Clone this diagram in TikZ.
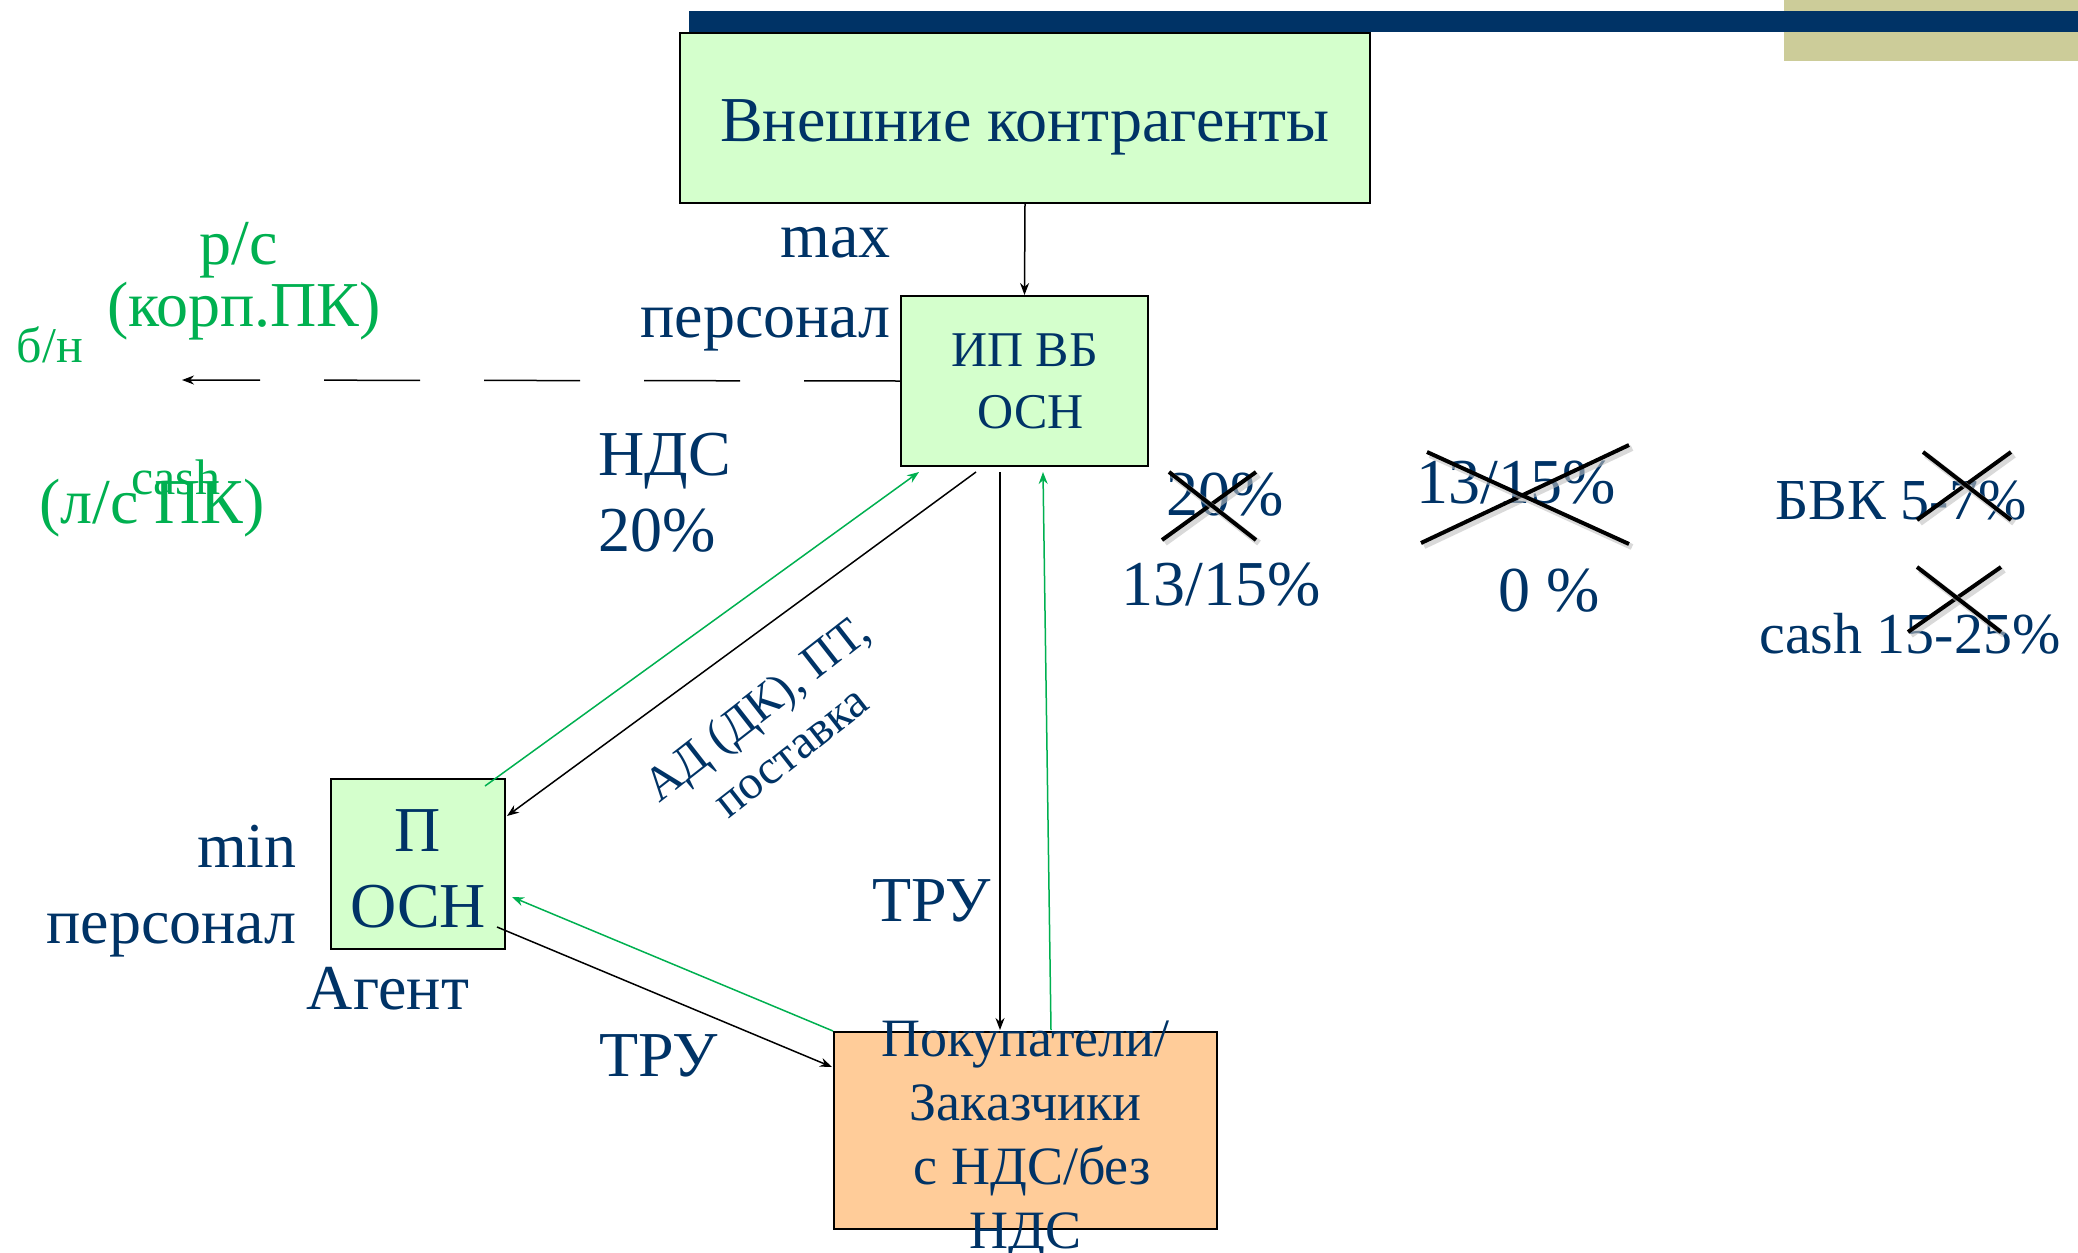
\documentclass[tikz,border=0pt]{standalone}
\usepackage{fontspec}
\setmainfont{Liberation Serif}
\usetikzlibrary{arrows.meta,calc}
\definecolor{navy}{RGB}{0,51,102}
\definecolor{grn}{RGB}{0,176,80}
\definecolor{boxgreen}{RGB}{212,255,204}
\definecolor{boxorange}{RGB}{255,204,153}
\definecolor{khaki}{RGB}{204,204,153}
\begin{document}
\begin{tikzpicture}[x=0.5pt,y=-0.5pt,
  box/.style={draw=black, line width=1pt, fill=boxgreen, inner sep=0pt, text=navy, align=center},
  obox/.style={draw=black, line width=1pt, fill=boxorange, inner sep=0pt},
  lbl/.style={text=navy, inner sep=0pt, font=\fontsize{32}{38}\selectfont},
  glbl/.style={text=grn, inner sep=0pt, font=\fontsize{32}{38}\selectfont},
  small/.style={font=\fontsize{25}{30}\selectfont},
  conn/.style={line width=0.75pt, -{Stealth[length=6pt,width=4.5pt]}},
  gconn/.style={conn, draw=grn},
  xmark/.style={line width=2pt, line cap=butt},
  xshade/.style={line width=3pt, draw=black!25, opacity=0.6},
]
\useasboundingbox (0,0) rectangle (2078,1253);

% header band
\fill[khaki] (1784,0) rectangle (2078,61);
\fill[navy] (689,11) rectangle (2078,32);

% boxes
\node[box, minimum width=345pt, minimum height=85pt] (top) at (1025,118) {};
\node[lbl, font=\fontsize{32}{38}\selectfont] (toptxt) at (1025,127) {Внешние контрагенты};
\node[box, minimum width=123.5pt, minimum height=85pt, font=\fontsize{25}{31}\selectfont] (ip) at (1024.5,381) {ИП ВБ\\~ОСН};
\node[box, minimum width=87pt, minimum height=85pt] (p) at (418,864) {};
\node[lbl, align=center, font=\fontsize{32}{38}\selectfont] (ptxt) at (418,869) {П\\ОСН};
\node[obox, minimum width=191.5pt, minimum height=98.5pt] (buy) at (1025.5,1130.5) {};
\node[lbl, align=center, font=\fontsize{27}{32}\selectfont] (buytxt) at (1025.5,1140) {Покупатели/\\Заказчики\\~с НДС/без\\НДС};

% side labels
\node[lbl, align=right, anchor=east, font=\fontsize{32}{40}\selectfont] (maxp) at (891,289) {max\\персонал};
\node[lbl, align=right, anchor=east] (minp) at (297,891) {min\\персонал};
\node[lbl, align=left, anchor=west] (vat) at (598,493) {НДС\\20\%};
\node[lbl] (tru1) at (932,901) {ТРУ};
\node[lbl] (tru2) at (659,1056) {ТРУ};
\node[lbl] (agent) at (388,989) {Агент};
\node[lbl, align=center, rotate=38, font=\fontsize{24}{27.5}\selectfont] (ad) at (773,729) {АД (ДК), ПТ,\\поставка};

% payment labels
\node[glbl] (rs) at (239,250) {р/с};
\node[glbl] (korp) at (244,311) {(корп.ПК)};
\node[glbl, small] (bn) at (50,345) {б/н};
\node[glbl] (ls) at (152,508) {(л/с ПК)};
\node[glbl, small] (cash) at (176,477) {cash};

% rates
\node[lbl] (r20) at (1225,495) {20\%};
\node[lbl] (r1315a) at (1221,585) {13/15\%};
\node[lbl] (r1315b) at (1516,483) {13/15\%};
\node[lbl] (r0) at (1549,591) {0 \%};
\node[lbl, font=\fontsize{29}{34}\selectfont] (bvk) at (1901,501) {БВК 5-7\%};
\node[lbl, font=\fontsize{29}{34}\selectfont] (cashr) at (1910,634) {cash 15-25\%};

% strike-outs
\foreach \a/\b/\c/\d in {1162/540/1256/472, 1169/472/1256/540,
                         1421/543/1629/445, 1427/452/1629/544,
                         1917/520/2011/452, 1923/452/2011/520,
                         1908/632/2001/567, 1917/567/2001/632}{
  \draw[xshade] (\a+3,\b+3) -- (\c+3,\d+3);
  \draw[xmark] (\a,\b) -- (\c,\d);
}

% connectors
\coordinate (bnEnd) at (182,380);
\draw[conn, dash pattern=on 48pt off 32pt] (ip.west) -- (bnEnd);
\draw[conn] (top.south) -- (ip.north);
\draw[conn] ($(ip.south west)+(76,5)$) -- ($(p.east)+(1,-48)$);
\draw[gconn] ($(p.north east)+(-21,8)$) -- ($(ip.south west)+(19,5)$);
\draw[conn] ($(ip.south west)+(100,5)$) -- ($(buy.north west)+(167,-1)$);
\draw[gconn] ($(buy.north west)+(218,-1)$) -- ($(ip.south west)+(143,5)$);
\draw[gconn] (buy.north west) -- ($(p.east)+(6,33)$);
\draw[conn] ($(p.east)+(-9,63)$) -- ($(buy.north west)+(-1,36)$);
\end{tikzpicture}
\end{document}
